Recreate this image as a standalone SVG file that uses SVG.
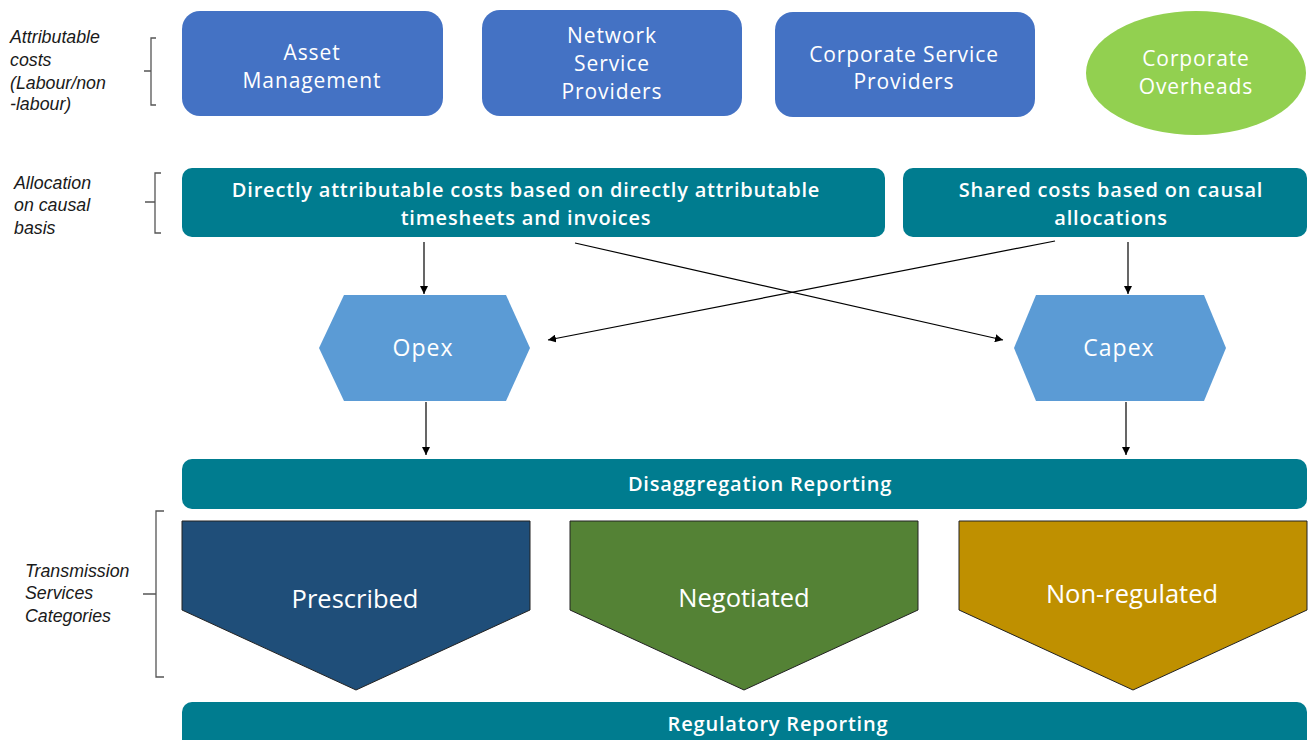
<svg xmlns="http://www.w3.org/2000/svg" width="1309" height="740" viewBox="0 0 1309 740">
<style>
.lbl{font-family:"Liberation Sans",Arial,sans-serif;font-style:italic;font-size:17.8px;fill:#1a1a1a}
.w{fill:#fff;text-anchor:middle}
.top{font-family:"Open Sans","Liberation Sans",sans-serif;font-size:21px;letter-spacing:0.9px}
.v{font-family:"Open Sans","Liberation Sans",sans-serif;font-size:20px;font-weight:600;letter-spacing:0.8px}
.hx{font-family:"Open Sans","Liberation Sans",sans-serif;font-size:23px;letter-spacing:1px}
.big{font-family:"Open Sans","Liberation Sans",sans-serif;font-size:25.5px}
.blue{fill:#4472C4}
.teal{fill:#007C8F}
.hex{fill:#5B9BD5}
.br{fill:none;stroke:#555;stroke-width:1.3}
.con{fill:none;stroke:#000;stroke-width:1.2;marker-end:url(#ah)}
</style>
<defs>
<marker id="ah" viewBox="0 0 10 10" refX="10" refY="5" markerWidth="8" markerHeight="8" markerUnits="userSpaceOnUse" orient="auto"><path d="M0,0L10,5L0,10z" fill="#000"/></marker>
</defs>
<rect width="1309" height="740" fill="#fff"/>
<g id="labels">
<text class="lbl" x="10" y="43">Attributable</text>
<text class="lbl" x="10" y="66">costs</text>
<text class="lbl" x="10" y="89">(Labour/non</text>
<text class="lbl" x="10" y="110">-labour)</text>
<path class="br" d="M156,38H151V105H156M151,71H144"/>
<text class="lbl" x="14" y="189">Allocation</text>
<text class="lbl" x="14" y="211">on causal</text>
<text class="lbl" x="14" y="234">basis</text>
<path class="br" d="M161,173H155V233H161M155,202H145"/>
<text class="lbl" x="25" y="577">Transmission</text>
<text class="lbl" x="25" y="599">Services</text>
<text class="lbl" x="25" y="622">Categories</text>
<path class="br" d="M164,511H156V677H164M156,594H143"/>
</g>
<g id="asset-management">
<rect class="blue" x="182" y="11" width="261" height="105" rx="18"/>
<text class="w top" x="312" y="60">Asset</text>
<text class="w top" x="312" y="88">Management</text>
</g>
<g id="network-service-providers">
<rect class="blue" x="482" y="10" width="260" height="106" rx="18"/>
<text class="w top" x="612" y="43">Network</text>
<text class="w top" x="612" y="71">Service</text>
<text class="w top" x="612" y="99">Providers</text>
</g>
<g id="corporate-service-providers">
<rect class="blue" x="775" y="12" width="260" height="105" rx="18"/>
<text class="w top" x="904" y="62">Corporate Service</text>
<text class="w top" x="904" y="89">Providers</text>
</g>
<g id="corporate-overheads">
<ellipse cx="1196" cy="73" rx="110" ry="62" fill="#92D050"/>
<text class="w top" x="1196" y="66">Corporate</text>
<text class="w top" x="1196" y="94">Overheads</text>
</g>
<g id="directly-attributable">
<rect class="teal" x="182" y="168" width="703" height="69" rx="10"/>
<text class="w v" x="526" y="197">Directly attributable costs based on directly attributable</text>
<text class="w v" x="526" y="225">timesheets and invoices</text>
</g>
<g id="shared-costs">
<rect class="teal" x="903" y="168" width="404" height="69" rx="10"/>
<text class="w v" x="1111" y="197">Shared costs based on causal</text>
<text class="w v" x="1111" y="225">allocations</text>
</g>
<g id="opex">
<polygon class="hex" points="319,348 344,295 506,295 530,348 506,401 344,401"/>
<text class="w hx" x="423" y="356">Opex</text>
</g>
<g id="capex">
<polygon class="hex" points="1014,348 1036,295 1204,295 1226,348 1204,401 1036,401"/>
<text class="w hx" x="1119" y="356">Capex</text>
</g>
<g id="disaggregation-reporting">
<rect class="teal" x="182" y="459" width="1125" height="50" rx="10"/>
<text class="w v" x="760" y="491">Disaggregation Reporting</text>
</g>
<g id="prescribed">
<polygon points="182,521 530,521 530,610 356,690 182,610" fill="#1F4E79" stroke="#222" stroke-width="1"/>
<text class="w big" x="355" y="608">Prescribed</text>
</g>
<g id="negotiated">
<polygon points="570,521 918,521 918,610 744,690 570,610" fill="#548235" stroke="#222" stroke-width="1"/>
<text class="w big" x="744" y="607">Negotiated</text>
</g>
<g id="non-regulated">
<polygon points="959,521 1307,521 1307,610 1133,690 959,610" fill="#BF9000" stroke="#222" stroke-width="1"/>
<text class="w big" x="1132" y="603">Non-regulated</text>
</g>
<g id="regulatory-reporting">
<rect class="teal" x="182" y="702" width="1125" height="50" rx="10"/>
<text class="w v" x="778" y="731">Regulatory Reporting</text>
</g>
<g id="connectors">
<line class="con" x1="424" y1="242" x2="424" y2="294"/>
<line class="con" x1="1128" y1="242" x2="1128" y2="294"/>
<line class="con" x1="575" y1="243" x2="1003" y2="340"/>
<line class="con" x1="1055" y1="241" x2="548" y2="340"/>
<line class="con" x1="426" y1="402" x2="426" y2="455"/>
<line class="con" x1="1126" y1="402" x2="1126" y2="455"/>
</g>
</svg>
